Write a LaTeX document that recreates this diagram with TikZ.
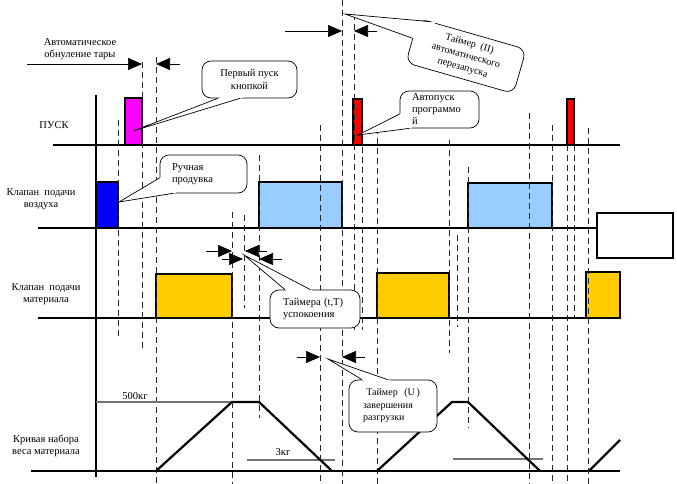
\documentclass[tikz,border=0pt]{standalone}
\usepackage{fontspec}
\setmainfont{Liberation Serif}
\usetikzlibrary{arrows.meta,calc}
\definecolor{airblue}{HTML}{99CCFF}
\definecolor{gold}{HTML}{FFCC00}
\definecolor{startpink}{RGB}{255,0,255}
\definecolor{startred}{RGB}{255,0,0}
\definecolor{blowblue}{RGB}{0,0,255}
\newcommand{\wedgeto}[3]{%
    \fill[white] (#1) -- ($(#1)!1.06!(#2)$) -- ($(#1)!1.06!(#3)$) -- cycle;
    \draw[line width=0.7pt] (#2) -- (#1) -- (#3);}

\begin{document}
\begin{tikzpicture}[x=1pt, y=-1pt,
    every node/.style={font=\fontsize{10.5}{12.5}\selectfont},
    wire/.style={line width=1.3pt},
    pulse/.style={draw, line width=2.4pt},
    guide/.style={dash pattern=on 6pt off 4pt, line width=0.8pt, black!85},
    ramp/.style={line width=2.2pt},
    level/.style={line width=1.3pt, black!55},
    span/.style={line width=0.7pt, -{Triangle[length=14pt,width=12pt]}},
    bubble/.style={draw, fill=white, rounded corners=9pt, line width=0.7pt, inner ysep=0pt}]
    \useasboundingbox (0,0) rectangle (677,484);

    \node[align=center] (tare) at (80,49) {Автоматическое\\обнуление тары};
    \node (start) at (54,125) {ПУСК};
    \node[align=center] (air) at (41,199) {Клапан\ \ подачи\\воздуха};
    \node[align=center] (feed) at (46,294) {Клапан\ \ подачи\\материала};
    \node[align=center] (weight) at (46,446) {Кривая набора\\веса материала};

    \draw[wire] (53,145) -- (620,145);
    \draw[wire] (38,228) -- (597,228);
    \draw[wire] (38,318) -- (586,318);
    \draw[wire] (31,471) -- (620,471);
    \draw[line width=2.2pt] (96,95) -- (96,477);

    \draw[pulse, fill=startpink] (125,98) rectangle (142,145);
    \draw[pulse, fill=startred] (353,99) rectangle (362,145);
    \draw[pulse, fill=startred] (567,99) rectangle (574,145);
    \draw[pulse, fill=blowblue] (96,182) rectangle (118,228);
    \draw[pulse, fill=airblue] (259,182) rectangle (342,228);
    \draw[pulse, fill=airblue] (468,183) rectangle (552,228);
    \draw[pulse, fill=white] (597,213) rectangle (673,258);
    \draw[pulse, fill=gold] (156,274) rectangle (232,318);
    \draw[pulse, fill=gold] (377,273) rectangle (449,318);
    \draw[pulse, fill=gold] (586,272) rectangle (620,318);

    \foreach \x/\a/\b in {118/120/337, 142/62/350, 156/57/484, 232/212/484,
        244/215/308, 259/155/418, 320/125/484, 342/0/484, 354/14/333,
        362/137/330, 377/128/484, 449/140/353, 457/235/327, 468/167/428,
        529/113/484, 552/125/484, 567/145/484, 574/145/318, 588/128/484}
        \draw[guide] (\x,\a) -- (\x,\b);

    \draw[level] (96,402) -- (232,402);
    \draw[level] (247,460) -- (335,460);
    \draw[level] (453,459) -- (543,459);
    \node (full) at (135,396) {500кг};
    \node (empty) at (283,452) {3кг};
    \draw[ramp] (156,471) -- (232,402) -- (259,402) -- (332,471);
    \draw[ramp] (377,471) -- (452,402) -- (468,402) -- (540,471);
    \draw[ramp] (589,471) -- (620,440);

    \node[bubble, align=center, minimum width=95, minimum height=37] (first) at (249.5,79.5) {Первый пуск\\кнопкой};
    \node[bubble, align=left, text width=63, inner xsep=12, minimum height=38] (blow) at (203.5,174) {Ручная\\продувка};
    \node[bubble, align=left, text width=55, inner xsep=12, minimum height=37, font=\fontsize{10.5}{12}\selectfont] (autostart) at (439.5,109.5) {Автопуск\\программо\\й};
    \node[bubble, rotate=-16, align=center, minimum width=112, minimum height=46, font=\fontsize{10}{12.5}\selectfont] (restart) at (466,56) {Таймер\ \ (II)\\автоматического\\перезапуска};
    \node[bubble, align=left, text width=64, inner xsep=13, minimum height=38] (settle) at (315,309) {Таймера (t,T)\\ успокоения};
    \node[bubble, align=left, text width=60, inner xsep=14, minimum height=52, font=\fontsize{10}{12.5}\selectfont] (unload) at (393,406) {\ Таймер\ \ (U\,)\\ завершения\\разгрузки};

    \coordinate (first tip) at (133,131);
    \coordinate (blow tip) at (119,202);
    \coordinate (autostart tip) at (358,135);
    \coordinate (restart tip) at (345,14);
    \coordinate (settle tip) at (244,255);
    \coordinate (unload tip) at (328,359);
    \wedgeto{first tip}{$(first.south west)!0.17!(first.south east)$}{$(first.south west)!0.40!(first.south east)$}
    \wedgeto{blow tip}{$(blow.south west)!0.40!(blow.north west)$}{$(blow.south west)!0.15!(blow.south east)$}
    \wedgeto{autostart tip}{$(autostart.south west)!0.38!(autostart.north west)$}{$(autostart.south west)!0.12!(autostart.south east)$}
    \wedgeto{restart tip}{$(restart.north west)!0.12!(restart.north east)$}{$(restart.north west)!0.45!(restart.south west)$}
    \wedgeto{settle tip}{$(settle.north west)!0.17!(settle.north east)$}{$(settle.north west)!0.45!(settle.north east)$}
    \wedgeto{unload tip}{$(unload.north west)!0.15!(unload.north east)$}{$(unload.north west)!0.44!(unload.north east)$}

    \foreach \name/\x/\y in {ta1/27/64, ta2/142/64, ta3/180/64, ta4/156/64,
        re1/285/31, re2/342/31, re3/377/31, re4/354/31,
        st1/206/251, st2/232/251, st3/267/251, st4/245/251,
        st5/222/259, st6/243/259, st7/282/259, st8/259/259,
        un1/297/357, un2/320/357, un3/365/357, un4/342/357}
        \coordinate (\name) at (\x,\y);
    \draw[span] (ta1) -- (ta2);
    \draw[span] (ta3) -- (ta4);
    \draw[span] (re1) -- (re2);
    \draw[span] (re3) -- (re4);
    \draw[span] (st1) -- (st2);
    \draw[span] (st3) -- (st4);
    \draw[span] (st5) -- (st6);
    \draw[span] (st7) -- (st8);
    \draw[span] (un1) -- (un2);
    \draw[span] (un3) -- (un4);
\end{tikzpicture}
\end{document}
